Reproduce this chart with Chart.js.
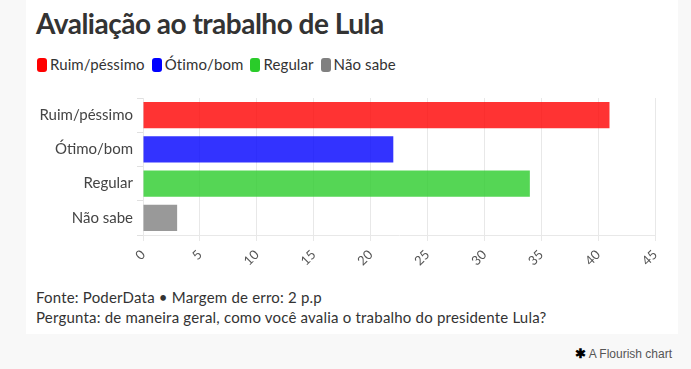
<!DOCTYPE html>
<html>
<head>
<meta charset="utf-8">
<script src="https://cdn.jsdelivr.net/npm/chart.js@4/dist/chart.umd.min.js"></script>
<style>
  html, body { margin: 0; padding: 0; background: #f8f8f8; width: 691px; height: 369px; overflow: hidden; font-family: Lato, sans-serif; color: #333; }
  .card { position: absolute; left: 26px; top: 0; width: 652px; height: 334px; background: #fff; }
  h1 { position: absolute; left: 10px; top: 6px; margin: 0; font-size: 28px; letter-spacing: -0.5px; font-weight: bold; color: #333; white-space: nowrap; }
  .legend { position: absolute; left: 11px; top: 55px; font-size: 15px; letter-spacing: 0.1px; white-space: nowrap; }
  .legend span { display: inline-block; margin-right: 7px; }
  .legend i { display: inline-block; width: 10px; height: 14px; border-radius: 3px; margin-right: 3px; vertical-align: -2px; }
  .graph { position: absolute; left: 0; top: 85px; width: 652px; height: 190px; }
  .foot { position: absolute; left: 10px; top: 287px; font-size: 15px; letter-spacing: 0.2px; line-height: 20px; color: #333; white-space: nowrap; }
  .brand { position: absolute; right: 19px; top: 346px; font-family: "Liberation Sans", Arial, sans-serif; font-size: 12px; color: #555; }
  .brand b { color: #000; font-size: 13px; }
</style>
</head>
<body>
<div class="card">
  <h1 id="title">Avaliação ao trabalho de Lula</h1>
  <div class="legend" id="legend"></div>
  <div class="graph"><canvas id="graph"></canvas></div>
  <div class="foot">Fonte: PoderData • Margem de erro: 2 p.p<br>Pergunta: de maneira geral, como você avalia o trabalho do presidente Lula?</div>
</div>
<div class="brand"><b>✱</b> A Flourish chart</div>
<script>
  let categories = ["Ruim/péssimo", "Ótimo/bom", "Regular", "Não sabe"];
  let values = [41, 22, 34, 3];
  let colors = ["#ff0000", "#0000ff", "#2acc2a", "#808080"];
  let x_ticks = [0, 5, 10, 15, 20, 25, 30, 35, 40, 45];

  // legend as plain html, like the flourish one
  let legend = document.getElementById("legend");
  categories.forEach((c, i) => {
    let s = document.createElement("span");
    s.innerHTML = '<i style="background:' + colors[i] + '"></i>' + c;
    legend.appendChild(s);
  });

  const withAlpha = (hex, a) => {
    let n = parseInt(hex.slice(1), 16);
    return "rgba(" + (n >> 16) + "," + ((n >> 8) & 255) + "," + (n & 255) + "," + a + ")";
  };

  Chart.defaults.font.family = "Lato, sans-serif";
  Chart.defaults.color = "#555";

  let chart_element = document.getElementById("graph").getContext("2d");
  new Chart(chart_element, {
    type: "bar",
    data: {
      labels: categories,
      datasets: [
        {
          data: values,
          backgroundColor: colors.map((c) => withAlpha(c, 0.8)),
          borderWidth: 0,
          barPercentage: 0.77,
          categoryPercentage: 1,
        },
      ],
    },
    options: {
      indexAxis: "y",
      animation: false,
      responsive: true,
      maintainAspectRatio: false,
      layout: { padding: { top: 10, right: 23, bottom: 0, left: 0 } },
      plugins: {
        legend: { display: false },
        tooltip: { enabled: false },
      },
      scales: {
        x: {
          min: 0,
          max: 45,
          afterBuildTicks: (s) => { s.ticks = x_ticks.map((v) => ({ value: v })); },
          afterFit: (s) => { s.height = 40; },
          grid: { color: "#e8e8e8", tickLength: 6 },
          border: { color: "#e8e8e8" },
          ticks: { minRotation: 45, maxRotation: 45, font: { size: 13 }, color: "#555", padding: 6 },
        },
        y: {
          afterFit: (s) => { s.width = 117; },
          grid: { drawOnChartArea: false, color: "#e0e0e0", tickLength: 6 },
          border: { display: false },
          ticks: { font: { size: 15 }, color: "#444", padding: 4 },
        },
      },
    },
  });
</script>
</body>
</html>
